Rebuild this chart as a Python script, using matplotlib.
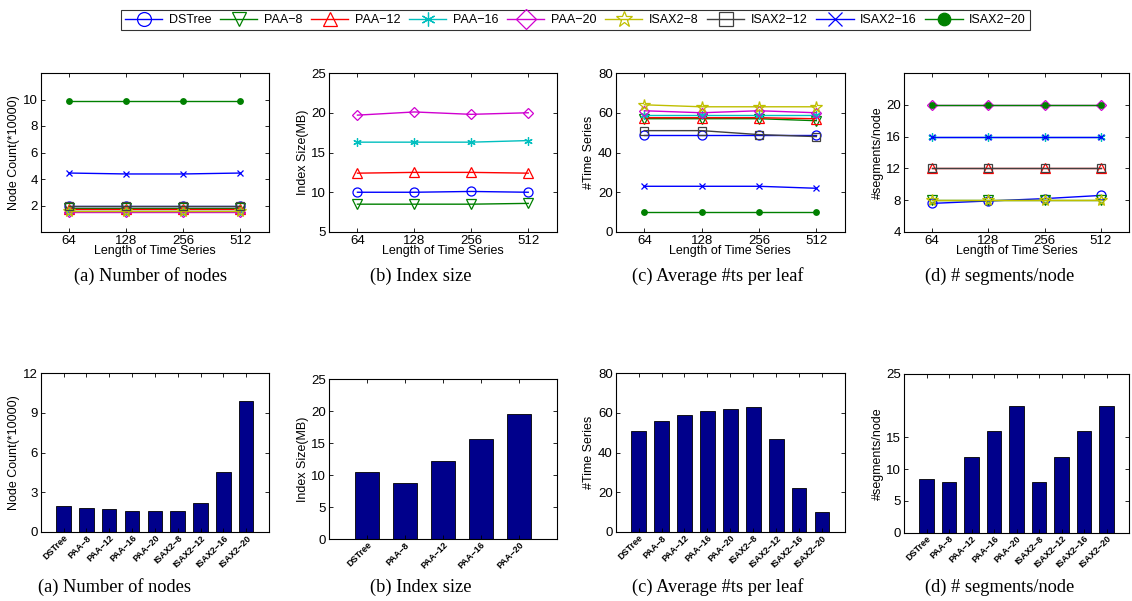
import matplotlib
matplotlib.use("Agg")
import matplotlib.pyplot as plt
from matplotlib.lines import Line2D

plt.rcParams['font.family'] = ['Liberation Sans', 'DejaVu Sans']
plt.rcParams['mathtext.default'] = 'regular'

# ---------------- data ----------------
methods = ["DSTree", "PAA−8", "PAA−12", "PAA−16", "PAA−20",
           "ISAX2−8", "ISAX2−12", "ISAX2−16", "ISAX2−20"]
lengths = ["64", "128", "256", "512"]

# (a) Node count (*10000) vs length
nodes_dstree = [2.0, 2.0, 2.0, 2.0]
nodes_paa8 = [1.82, 1.82, 1.82, 1.82]
nodes_paa12 = [1.7, 1.7, 1.7, 1.7]
nodes_paa16 = [1.62, 1.62, 1.62, 1.62]
nodes_paa20 = [1.52, 1.52, 1.52, 1.52]
nodes_isax8 = [1.56, 1.56, 1.56, 1.56]
nodes_isax12 = [2.0, 2.0, 2.0, 2.0]
nodes_isax16 = [4.45, 4.38, 4.38, 4.45]
nodes_isax20 = [9.9, 9.9, 9.9, 9.9]

# (b) Index size (MB) vs length (only DSTree and PAA)
size_dstree = [10.0, 10.0, 10.1, 10.0]
size_paa8 = [8.5, 8.5, 8.5, 8.6]
size_paa12 = [12.4, 12.5, 12.5, 12.4]
size_paa16 = [16.3, 16.3, 16.3, 16.5]
size_paa20 = [19.7, 20.1, 19.8, 20.0]

# (c) Average #ts per leaf vs length
ts_dstree = [49, 49, 49, 49]
ts_paa8 = [57, 57, 57, 56]
ts_paa12 = [57.5, 57.5, 57.5, 57.0]
ts_paa16 = [59, 59, 59, 59]
ts_paa20 = [61, 60, 61, 60]
ts_isax8 = [64, 63, 63, 63]
ts_isax12 = [51, 51, 49, 48]
ts_isax16 = [23, 23, 23, 22]
ts_isax20 = [10, 10, 10, 10]

# (d) # segments/node vs length
seg_dstree = [7.6, 7.9, 8.2, 8.6]
seg_paa8 = [8, 8, 8, 8]
seg_paa12 = [12, 12, 12, 12]
seg_paa16 = [16, 16, 16, 16]
seg_paa20 = [20, 20, 20, 20]
seg_isax8 = [8, 8, 8, 8]
seg_isax12 = [12, 12, 12, 12]
seg_isax16 = [16, 16, 16, 16]
seg_isax20 = [20, 20, 20, 20]

# bar charts (averages)
bar_nodes = [1.95, 1.8, 1.7, 1.62, 1.62, 1.57, 2.2, 4.5, 9.9]
bar_size_methods = ["DSTree", "PAA−8", "PAA−12", "PAA−16", "PAA−20"]
bar_size = [10.5, 8.7, 12.2, 15.7, 19.5]
bar_ts = [51, 56, 59, 61, 62, 63, 47, 22, 10]
bar_seg = [8.5, 8, 12, 16, 20, 8, 12, 16, 20]

captions = ["(a) Number of nodes", "(b) Index size",
            "(c) Average #ts per leaf", "(d) # segments/node"]

# ---------------- styles ----------------
styles = {
    "DSTree":   dict(color="#0000ff", marker="o", mfc="none", ms=6.5),
    "PAA−8":    dict(color="#008000", marker="v", mfc="none", ms=6.5),
    "PAA−12":   dict(color="#ff0000", marker="^", mfc="none", ms=6.5),
    "PAA−16":   dict(color="#00bfbf", marker=(6, 2, 0), mfc="none", ms=6),
    "PAA−20":   dict(color="#d000d0", marker="D", mfc="none", ms=5.5),
    "ISAX2−8":  dict(color="#bfbf00", marker="*", mfc="none", ms=8.5),
    "ISAX2−12": dict(color="#404040", marker="s", mfc="none", ms=5.5),
    "ISAX2−16": dict(color="#0000ff", marker="x", mfc="none", ms=5),
    "ISAX2−20": dict(color="#008000", marker="o", mfc="#008000", ms=4),
}

W, H = 1132, 601
fig = plt.figure(figsize=(W / 100, H / 100), dpi=100)


def box(l, r, t, b):
    return [l / W, 1 - b / H, (r - l) / W, (b - t) / H]


def style_axes(ax):
    ax.tick_params(direction="in", top=True, right=True, labelsize=9.5,
                   length=3, width=0.6, pad=2)
    for s in ax.spines.values():
        s.set_linewidth(0.8)


lab_fs = 9

top_boxes = [box(40.7, 269, 73, 232), box(329, 556.7, 73, 232),
             box(615.7, 845, 73, 232), box(904, 1129, 73, 232)]
bot_boxes = [box(40.7, 269, 373, 532), box(329, 556.7, 379, 539),
             box(615.7, 845, 373, 532), box(904, 1129, 374, 532.7)]

xs = [1, 2, 3, 4]

# ---- top row line charts ----
top_data = [
    {"DSTree": nodes_dstree, "PAA−8": nodes_paa8, "PAA−12": nodes_paa12,
     "PAA−16": nodes_paa16, "PAA−20": nodes_paa20, "ISAX2−8": nodes_isax8,
     "ISAX2−12": nodes_isax12, "ISAX2−16": nodes_isax16, "ISAX2−20": nodes_isax20},
    {"DSTree": size_dstree, "PAA−8": size_paa8, "PAA−12": size_paa12,
     "PAA−16": size_paa16, "PAA−20": size_paa20},
    {"DSTree": ts_dstree, "PAA−8": ts_paa8, "PAA−12": ts_paa12,
     "PAA−16": ts_paa16, "PAA−20": ts_paa20, "ISAX2−8": ts_isax8,
     "ISAX2−12": ts_isax12, "ISAX2−16": ts_isax16, "ISAX2−20": ts_isax20},
    {"DSTree": seg_dstree, "PAA−8": seg_paa8, "PAA−12": seg_paa12,
     "PAA−16": seg_paa16, "PAA−20": seg_paa20, "ISAX2−8": seg_isax8,
     "ISAX2−12": seg_isax12, "ISAX2−16": seg_isax16, "ISAX2−20": seg_isax20},
]
top_ylabels = ["Node Count(*10000)", "Index Size(MB)", "#Time Series", "#segments/node"]
top_ylims = [(0, 12), (5, 25), (0, 80), (4, 24)]
top_yticks = [[2, 4, 6, 8, 10], [5, 10, 15, 20, 25], [0, 20, 40, 60, 80], [4, 8, 12, 16, 20]]

for i in range(4):
    ax = fig.add_axes(top_boxes[i])
    for name, vals in top_data[i].items():
        st = styles[name]
        ax.plot(xs, vals, color=st["color"], marker=st["marker"], mfc=st["mfc"],
                mec=st["color"], ms=st["ms"], lw=1.0, mew=0.9)
    ax.set_xlim(0.5, 4.5)
    ax.set_ylim(*top_ylims[i])
    ax.set_yticks(top_yticks[i])
    ax.set_xticks(xs)
    ax.set_xticklabels(lengths)
    ax.set_xlabel("Length of Time Series", fontsize=lab_fs, labelpad=-1)
    ax.set_ylabel(top_ylabels[i], fontsize=lab_fs, labelpad=2)
    style_axes(ax)

# ---- bottom row bar charts ----
bot_vals = [bar_nodes, bar_size, bar_ts, bar_seg]
bot_names = [methods, bar_size_methods, methods, methods]
bot_ylims = [(0, 12), (0, 25), (0, 80), (0, 25)]
bot_yticks = [[0, 3, 6, 9, 12], [0, 5, 10, 15, 20, 25], [0, 20, 40, 60, 80], [0, 5, 10, 15, 25]]

for i in range(4):
    ax = fig.add_axes(bot_boxes[i])
    n = len(bot_vals[i])
    pos = list(range(1, n + 1))
    ax.bar(pos, bot_vals[i], width=0.64, color="#00008b", edgecolor="black", linewidth=0.6)
    ax.set_xlim(0, n + 1)
    ax.set_ylim(*bot_ylims[i])
    ax.set_yticks(bot_yticks[i])
    ax.set_xticks(pos)
    ax.set_xticklabels(bot_names[i], rotation=45, ha="right", rotation_mode="anchor",
                       fontsize=6.5, fontweight="bold")
    ax.set_ylabel(top_ylabels[i], fontsize=lab_fs, labelpad=2)
    style_axes(ax)
    ax.tick_params(axis="x", labelsize=6.5, pad=1)

# ---- captions ----
cap_top_x = [151, 421, 718, 1000]
cap_bot_x = [114, 421, 718, 1000]
for i in range(4):
    fig.text(cap_top_x[i] / W, 1 - 276 / H, captions[i], ha="center", va="center",
             fontsize=13.2, family=["Liberation Serif", "DejaVu Serif"])
    fig.text(cap_bot_x[i] / W, 1 - 587 / H, captions[i], ha="center", va="center",
             fontsize=13.2, family=["Liberation Serif", "DejaVu Serif"])

# ---- legend ----
handles = []
for name in methods:
    st = styles[name]
    ms = 10 if name != "ISAX2−20" else 9
    if name == "ISAX2−8":
        ms = 12
    handles.append(Line2D([], [], color=st["color"], marker=st["marker"],
                          mfc=st["mfc"], mec=st["color"], ms=ms, lw=1.0, mew=0.9))
leg = fig.legend(handles, methods, loc="center", ncol=9,
                 bbox_to_anchor=(575.5 / W, 1 - 20 / H), fontsize=9,
                 frameon=True, fancybox=False, edgecolor="black",
                 handlelength=3.0, columnspacing=0.7, handletextpad=0.5,
                 borderpad=0.35)
leg.get_frame().set_linewidth(0.8)

fig.savefig("out.png", dpi=100)
